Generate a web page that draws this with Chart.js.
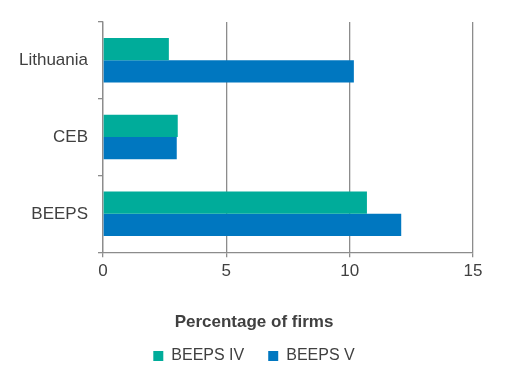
<!DOCTYPE html>
<html>
<head>
<meta charset="utf-8">
<script src="https://cdn.jsdelivr.net/npm/chart.js@4/dist/chart.umd.min.js"></script>
<style>
  html, body { margin: 0; padding: 0; background: #fff; }
  #wrap { width: 508px; height: 384px; }
</style>
</head>
<body>
<div id="wrap"><canvas id="myChart"></canvas></div>
<script>
const categories = ['Lithuania', 'CEB', 'BEEPS'];
const beepsIV = [2.67, 3.03, 10.70];
const beepsV = [10.17, 2.99, 12.09];
const xTicks = [0, 5, 10, 15];

const fontName = "'Liberation Sans', Arial, sans-serif";
const gray = '#8c8c8c';

const ctx = document.getElementById('myChart');

new Chart(ctx, {
    type: 'bar',
    data: {
        labels: categories,
        datasets: [{
            label: 'BEEPS IV',
            data: beepsIV,
            backgroundColor: '#00ac9a'
        },
        {
            label: 'BEEPS V',
            data: beepsV,
            backgroundColor: '#0077c0'
        }]
    },
    options: {
        indexAxis: 'y',
        responsive: true,
        maintainAspectRatio: false,
        animation: false,
        categoryPercentage: 0.58,
        barPercentage: 1.0,
        layout: { padding: { top: 22, right: 0, left: 0, bottom: 10 } },
        scales: {
            x: {
                min: 0,
                max: 15,
                afterBuildTicks: (axis) => { axis.ticks = xTicks.map(v => ({ value: v })); },
                // keep the plot's right edge at the same place as the original
                afterFit: (axis) => { axis.paddingRight = 35; },
                grid: { color: gray, lineWidth: 1.3, tickLength: 5 },
                border: { color: gray, width: 1.3 },
                ticks: { color: '#404040', font: { family: fontName, size: 17 }, padding: 4 }
            },
            y: {
                grid: { drawOnChartArea: false, color: gray, lineWidth: 1.3, tickLength: 5, offset: true },
                border: { color: gray, width: 1.3 },
                ticks: { color: '#404040', font: { family: fontName, size: 17 }, padding: 10 },
                afterFit: (axis) => { axis.width = 103; }
            }
        },
        plugins: {
            title: {
                display: true,
                position: 'bottom',
                weight: 500,
                text: 'Percentage of firms',
                color: '#404040',
                font: { family: fontName, size: 17, weight: 'bold' },
                padding: { top: 27, bottom: -9 }
            },
            legend: {
                position: 'bottom',
                labels: {
                    color: '#404040',
                    font: { family: fontName, size: 16 },
                    boxWidth: 10,
                    boxHeight: 10,
                    padding: 24
                }
            },
            tooltip: { enabled: false }
        }
    }
});
</script>
</body>
</html>
